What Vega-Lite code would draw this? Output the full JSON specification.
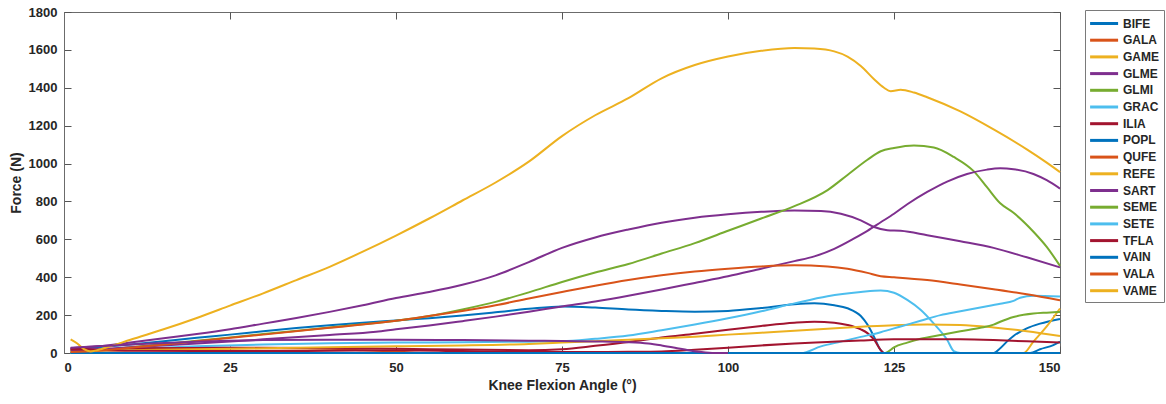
{
"$schema":"https://vega.github.io/schema/vega-lite/v6.json",
"width":996,"height":341,"autosize":"none",
"padding":{"left":64,"top":12,"right":106,"bottom":51},
"background":"white",
"config":{
 "view":{"stroke":"#6b6b6b","strokeWidth":1},
 "axis":{"labelFont":"Liberation Sans","labelFontWeight":"bold","labelFontSize":13,"labelColor":"#262626","titleFont":"Liberation Sans","titleFontWeight":"bold","titleFontSize":14,"titleColor":"#262626","domainColor":"#6b6b6b","tickColor":"#555555","grid":false,"tickSize":-7,"format":"d"}
},
"data":{"values":[
{"m":"BIFE","a":1,"f":20},{"m":"BIFE","a":5,"f":30},{"m":"BIFE","a":10,"f":45},{"m":"BIFE","a":15,"f":62},{"m":"BIFE","a":20,"f":80},{"m":"BIFE","a":25,"f":97},{"m":"BIFE","a":30,"f":115},{"m":"BIFE","a":35,"f":132},{"m":"BIFE","a":40,"f":147},{"m":"BIFE","a":45,"f":160},{"m":"BIFE","a":50,"f":172},{"m":"BIFE","a":55,"f":184},{"m":"BIFE","a":60,"f":198},{"m":"BIFE","a":65,"f":215},{"m":"BIFE","a":70,"f":233},{"m":"BIFE","a":75,"f":246},{"m":"BIFE","a":80,"f":240},{"m":"BIFE","a":85,"f":229},{"m":"BIFE","a":90,"f":222},{"m":"BIFE","a":95,"f":218},{"m":"BIFE","a":100,"f":222},{"m":"BIFE","a":105,"f":237},{"m":"BIFE","a":110,"f":257},{"m":"BIFE","a":113,"f":262},{"m":"BIFE","a":116,"f":252},{"m":"BIFE","a":118,"f":236},{"m":"BIFE","a":120,"f":195},{"m":"BIFE","a":121,"f":150},{"m":"BIFE","a":122,"f":85},{"m":"BIFE","a":123,"f":15},{"m":"BIFE","a":123.5,"f":0},{"m":"BIFE","a":140,"f":0},{"m":"BIFE","a":141,"f":25},{"m":"BIFE","a":142,"f":60},{"m":"BIFE","a":143,"f":90},{"m":"BIFE","a":145,"f":130},{"m":"BIFE","a":147,"f":155},{"m":"BIFE","a":150,"f":180},
{"m":"GALA","a":1,"f":15},{"m":"GALA","a":10,"f":18},{"m":"GALA","a":20,"f":22},{"m":"GALA","a":30,"f":25},{"m":"GALA","a":40,"f":22},{"m":"GALA","a":45,"f":15},{"m":"GALA","a":50,"f":8},{"m":"GALA","a":55,"f":0},{"m":"GALA","a":150,"f":0},
{"m":"GAME","a":1,"f":0},{"m":"GAME","a":144.5,"f":0},{"m":"GAME","a":146,"f":60},{"m":"GAME","a":148,"f":140},{"m":"GAME","a":150,"f":235},
{"m":"GLME","a":1,"f":25},{"m":"GLME","a":5,"f":35},{"m":"GLME","a":10,"f":55},{"m":"GLME","a":15,"f":78},{"m":"GLME","a":20,"f":100},{"m":"GLME","a":25,"f":125},{"m":"GLME","a":30,"f":155},{"m":"GLME","a":35,"f":185},{"m":"GLME","a":40,"f":217},{"m":"GLME","a":45,"f":252},{"m":"GLME","a":50,"f":290},{"m":"GLME","a":55,"f":322},{"m":"GLME","a":60,"f":360},{"m":"GLME","a":65,"f":410},{"m":"GLME","a":70,"f":480},{"m":"GLME","a":75,"f":555},{"m":"GLME","a":80,"f":610},{"m":"GLME","a":85,"f":652},{"m":"GLME","a":90,"f":688},{"m":"GLME","a":95,"f":714},{"m":"GLME","a":100,"f":732},{"m":"GLME","a":105,"f":745},{"m":"GLME","a":110,"f":752},{"m":"GLME","a":114,"f":750},{"m":"GLME","a":117,"f":735},{"m":"GLME","a":120,"f":700},{"m":"GLME","a":122,"f":665},{"m":"GLME","a":124,"f":648},{"m":"GLME","a":126,"f":645},{"m":"GLME","a":130,"f":622},{"m":"GLME","a":135,"f":590},{"m":"GLME","a":140,"f":555},{"m":"GLME","a":145,"f":505},{"m":"GLME","a":150,"f":452},
{"m":"GLMI","a":1,"f":10},{"m":"GLMI","a":5,"f":15},{"m":"GLMI","a":10,"f":30},{"m":"GLMI","a":20,"f":65},{"m":"GLMI","a":30,"f":100},{"m":"GLMI","a":40,"f":135},{"m":"GLMI","a":50,"f":170},{"m":"GLMI","a":55,"f":195},{"m":"GLMI","a":60,"f":230},{"m":"GLMI","a":65,"f":270},{"m":"GLMI","a":70,"f":320},{"m":"GLMI","a":75,"f":375},{"m":"GLMI","a":80,"f":425},{"m":"GLMI","a":85,"f":470},{"m":"GLMI","a":90,"f":525},{"m":"GLMI","a":95,"f":580},{"m":"GLMI","a":100,"f":645},{"m":"GLMI","a":105,"f":710},{"m":"GLMI","a":110,"f":775},{"m":"GLMI","a":115,"f":860},{"m":"GLMI","a":118,"f":940},{"m":"GLMI","a":121,"f":1020},{"m":"GLMI","a":123,"f":1065},{"m":"GLMI","a":125,"f":1082},{"m":"GLMI","a":128,"f":1095},{"m":"GLMI","a":131,"f":1085},{"m":"GLMI","a":134,"f":1035},{"m":"GLMI","a":137,"f":960},{"m":"GLMI","a":139,"f":875},{"m":"GLMI","a":141,"f":790},{"m":"GLMI","a":143,"f":740},{"m":"GLMI","a":146,"f":640},{"m":"GLMI","a":148,"f":560},{"m":"GLMI","a":150,"f":460},
{"m":"GRAC","a":1,"f":5},{"m":"GRAC","a":10,"f":20},{"m":"GRAC","a":20,"f":35},{"m":"GRAC","a":30,"f":45},{"m":"GRAC","a":40,"f":52},{"m":"GRAC","a":50,"f":55},{"m":"GRAC","a":60,"f":57},{"m":"GRAC","a":70,"f":60},{"m":"GRAC","a":75,"f":62},{"m":"GRAC","a":80,"f":75},{"m":"GRAC","a":85,"f":92},{"m":"GRAC","a":90,"f":120},{"m":"GRAC","a":95,"f":150},{"m":"GRAC","a":100,"f":183},{"m":"GRAC","a":105,"f":220},{"m":"GRAC","a":110,"f":262},{"m":"GRAC","a":115,"f":300},{"m":"GRAC","a":120,"f":322},{"m":"GRAC","a":123,"f":330},{"m":"GRAC","a":125,"f":318},{"m":"GRAC","a":127,"f":280},{"m":"GRAC","a":129,"f":228},{"m":"GRAC","a":131,"f":155},{"m":"GRAC","a":133,"f":70},{"m":"GRAC","a":134,"f":10},{"m":"GRAC","a":135,"f":0},{"m":"GRAC","a":150,"f":0},
{"m":"ILIA","a":1,"f":25},{"m":"ILIA","a":5,"f":20},{"m":"ILIA","a":10,"f":25},{"m":"ILIA","a":20,"f":27},{"m":"ILIA","a":30,"f":28},{"m":"ILIA","a":40,"f":25},{"m":"ILIA","a":50,"f":22},{"m":"ILIA","a":60,"f":18},{"m":"ILIA","a":70,"f":15},{"m":"ILIA","a":75,"f":20},{"m":"ILIA","a":80,"f":38},{"m":"ILIA","a":85,"f":58},{"m":"ILIA","a":90,"f":82},{"m":"ILIA","a":95,"f":102},{"m":"ILIA","a":100,"f":123},{"m":"ILIA","a":105,"f":143},{"m":"ILIA","a":110,"f":160},{"m":"ILIA","a":113,"f":165},{"m":"ILIA","a":116,"f":160},{"m":"ILIA","a":118,"f":148},{"m":"ILIA","a":120,"f":125},{"m":"ILIA","a":121,"f":105},{"m":"ILIA","a":122,"f":70},{"m":"ILIA","a":123,"f":15},{"m":"ILIA","a":123.5,"f":0},{"m":"ILIA","a":150,"f":0},
{"m":"POPL","a":1,"f":0},{"m":"POPL","a":145.5,"f":0},{"m":"POPL","a":147,"f":20},{"m":"POPL","a":149,"f":42},{"m":"POPL","a":150,"f":60},
{"m":"QUFE","a":1,"f":0},{"m":"QUFE","a":150,"f":0},
{"m":"REFE","a":1,"f":10},{"m":"REFE","a":10,"f":15},{"m":"REFE","a":20,"f":20},{"m":"REFE","a":30,"f":25},{"m":"REFE","a":40,"f":30},{"m":"REFE","a":50,"f":35},{"m":"REFE","a":60,"f":40},{"m":"REFE","a":70,"f":48},{"m":"REFE","a":75,"f":55},{"m":"REFE","a":80,"f":62},{"m":"REFE","a":85,"f":70},{"m":"REFE","a":90,"f":78},{"m":"REFE","a":95,"f":86},{"m":"REFE","a":100,"f":97},{"m":"REFE","a":105,"f":107},{"m":"REFE","a":110,"f":118},{"m":"REFE","a":115,"f":128},{"m":"REFE","a":120,"f":138},{"m":"REFE","a":125,"f":147},{"m":"REFE","a":130,"f":150},{"m":"REFE","a":135,"f":148},{"m":"REFE","a":140,"f":135},{"m":"REFE","a":145,"f":115},{"m":"REFE","a":150,"f":90},
{"m":"SART","a":1,"f":15},{"m":"SART","a":5,"f":20},{"m":"SART","a":10,"f":30},{"m":"SART","a":20,"f":50},{"m":"SART","a":30,"f":72},{"m":"SART","a":40,"f":95},{"m":"SART","a":47,"f":112},{"m":"SART","a":50,"f":125},{"m":"SART","a":55,"f":145},{"m":"SART","a":60,"f":168},{"m":"SART","a":65,"f":192},{"m":"SART","a":70,"f":218},{"m":"SART","a":75,"f":246},{"m":"SART","a":80,"f":272},{"m":"SART","a":85,"f":302},{"m":"SART","a":90,"f":335},{"m":"SART","a":95,"f":370},{"m":"SART","a":100,"f":405},{"m":"SART","a":105,"f":445},{"m":"SART","a":110,"f":485},{"m":"SART","a":113,"f":510},{"m":"SART","a":116,"f":550},{"m":"SART","a":119,"f":605},{"m":"SART","a":121,"f":645},{"m":"SART","a":123,"f":690},{"m":"SART","a":125,"f":735},{"m":"SART","a":127,"f":785},{"m":"SART","a":130,"f":850},{"m":"SART","a":133,"f":905},{"m":"SART","a":136,"f":945},{"m":"SART","a":139,"f":968},{"m":"SART","a":141,"f":975},{"m":"SART","a":143,"f":970},{"m":"SART","a":146,"f":945},{"m":"SART","a":148,"f":912},{"m":"SART","a":150,"f":868},
{"m":"SEME","a":1,"f":0},{"m":"SEME","a":123.5,"f":0},{"m":"SEME","a":124,"f":5},{"m":"SEME","a":125,"f":30},{"m":"SEME","a":127,"f":55},{"m":"SEME","a":129,"f":75},{"m":"SEME","a":132,"f":95},{"m":"SEME","a":135,"f":115},{"m":"SEME","a":138,"f":133},{"m":"SEME","a":140,"f":150},{"m":"SEME","a":141,"f":165},{"m":"SEME","a":143,"f":190},{"m":"SEME","a":146,"f":208},{"m":"SEME","a":148,"f":213},{"m":"SEME","a":150,"f":217},
{"m":"SETE","a":1,"f":0},{"m":"SETE","a":111,"f":0},{"m":"SETE","a":114,"f":35},{"m":"SETE","a":117,"f":60},{"m":"SETE","a":120,"f":85},{"m":"SETE","a":123,"f":110},{"m":"SETE","a":126,"f":140},{"m":"SETE","a":129,"f":170},{"m":"SETE","a":132,"f":200},{"m":"SETE","a":135,"f":220},{"m":"SETE","a":138,"f":240},{"m":"SETE","a":141,"f":260},{"m":"SETE","a":143,"f":275},{"m":"SETE","a":144,"f":292},{"m":"SETE","a":146,"f":302},{"m":"SETE","a":150,"f":298},
{"m":"TFLA","a":1,"f":20},{"m":"TFLA","a":10,"f":12},{"m":"TFLA","a":20,"f":10},{"m":"TFLA","a":30,"f":10},{"m":"TFLA","a":40,"f":12},{"m":"TFLA","a":50,"f":15},{"m":"TFLA","a":60,"f":10},{"m":"TFLA","a":70,"f":6},{"m":"TFLA","a":80,"f":5},{"m":"TFLA","a":85,"f":6},{"m":"TFLA","a":90,"f":8},{"m":"TFLA","a":95,"f":17},{"m":"TFLA","a":100,"f":28},{"m":"TFLA","a":105,"f":40},{"m":"TFLA","a":110,"f":50},{"m":"TFLA","a":115,"f":58},{"m":"TFLA","a":120,"f":66},{"m":"TFLA","a":125,"f":72},{"m":"TFLA","a":130,"f":73},{"m":"TFLA","a":135,"f":72},{"m":"TFLA","a":140,"f":68},{"m":"TFLA","a":145,"f":62},{"m":"TFLA","a":150,"f":55},
{"m":"VAIN","a":1,"f":0},{"m":"VAIN","a":150,"f":0},
{"m":"VALA","a":1,"f":5},{"m":"VALA","a":5,"f":12},{"m":"VALA","a":10,"f":28},{"m":"VALA","a":20,"f":62},{"m":"VALA","a":30,"f":97},{"m":"VALA","a":40,"f":133},{"m":"VALA","a":50,"f":170},{"m":"VALA","a":55,"f":195},{"m":"VALA","a":60,"f":222},{"m":"VALA","a":65,"f":252},{"m":"VALA","a":70,"f":288},{"m":"VALA","a":75,"f":322},{"m":"VALA","a":80,"f":355},{"m":"VALA","a":85,"f":385},{"m":"VALA","a":90,"f":410},{"m":"VALA","a":95,"f":430},{"m":"VALA","a":100,"f":445},{"m":"VALA","a":105,"f":457},{"m":"VALA","a":110,"f":463},{"m":"VALA","a":115,"f":457},{"m":"VALA","a":118,"f":445},{"m":"VALA","a":121,"f":423},{"m":"VALA","a":123,"f":405},{"m":"VALA","a":125,"f":400},{"m":"VALA","a":130,"f":385},{"m":"VALA","a":135,"f":362},{"m":"VALA","a":140,"f":337},{"m":"VALA","a":145,"f":310},{"m":"VALA","a":150,"f":278},
{"m":"VAME","a":1,"f":72},{"m":"VAME","a":2,"f":50},{"m":"VAME","a":3,"f":20},{"m":"VAME","a":4,"f":8},{"m":"VAME","a":5,"f":15},{"m":"VAME","a":7,"f":35},{"m":"VAME","a":10,"f":70},{"m":"VAME","a":15,"f":125},{"m":"VAME","a":20,"f":185},{"m":"VAME","a":25,"f":250},{"m":"VAME","a":30,"f":315},{"m":"VAME","a":35,"f":385},{"m":"VAME","a":40,"f":455},{"m":"VAME","a":45,"f":535},{"m":"VAME","a":50,"f":620},{"m":"VAME","a":55,"f":710},{"m":"VAME","a":60,"f":805},{"m":"VAME","a":65,"f":900},{"m":"VAME","a":70,"f":1010},{"m":"VAME","a":75,"f":1145},{"m":"VAME","a":80,"f":1255},{"m":"VAME","a":85,"f":1345},{"m":"VAME","a":90,"f":1450},{"m":"VAME","a":95,"f":1520},{"m":"VAME","a":100,"f":1565},{"m":"VAME","a":105,"f":1595},{"m":"VAME","a":110,"f":1610},{"m":"VAME","a":113,"f":1607},{"m":"VAME","a":116,"f":1592},{"m":"VAME","a":118,"f":1565},{"m":"VAME","a":120,"f":1515},{"m":"VAME","a":122,"f":1445},{"m":"VAME","a":123.5,"f":1400},{"m":"VAME","a":124.5,"f":1382},{"m":"VAME","a":126,"f":1390},{"m":"VAME","a":128,"f":1375},{"m":"VAME","a":130,"f":1350},{"m":"VAME","a":135,"f":1275},{"m":"VAME","a":140,"f":1180},{"m":"VAME","a":145,"f":1075},{"m":"VAME","a":148,"f":1005},{"m":"VAME","a":150,"f":955},
{"m":"extra","a":1,"f":28},{"m":"extra","a":5,"f":35},{"m":"extra","a":10,"f":45},{"m":"extra","a":20,"f":60},{"m":"extra","a":30,"f":68},{"m":"extra","a":40,"f":70},{"m":"extra","a":50,"f":70},{"m":"extra","a":60,"f":68},{"m":"extra","a":70,"f":65},{"m":"extra","a":75,"f":63},{"m":"extra","a":80,"f":61},{"m":"extra","a":85,"f":57},{"m":"extra","a":88,"f":50},{"m":"extra","a":90,"f":40},{"m":"extra","a":92,"f":28},{"m":"extra","a":94,"f":15},{"m":"extra","a":96,"f":5},{"m":"extra","a":98,"f":0},{"m":"extra","a":100,"f":0}
]},
"layer":[
 {"transform":[{"filter":"datum.m !== 'extra'"}],
  "mark":{"type":"line","strokeWidth":2,"interpolate":"monotone"},
  "encoding":{
   "x":{"field":"a","type":"quantitative","scale":{"domain":[0,150],"nice":false},"axis":{"values":[0,25,50,75,100,125,150],"title":"Knee Flexion Angle (°)","labelPadding":15,"titlePadding":4,"domain":true}},
   "y":{"field":"f","type":"quantitative","scale":{"domain":[0,1800],"nice":false},"axis":{"values":[0,200,400,600,800,1000,1200,1400,1600,1800],"title":"Force (N)","labelPadding":14,"titlePadding":5}},
   "color":{"field":"m","type":"nominal","sort":null,
    "scale":{"domain":["BIFE","GALA","GAME","GLME","GLMI","GRAC","ILIA","POPL","QUFE","REFE","SART","SEME","SETE","TFLA","VAIN","VALA","VAME"],
             "range":["#0072BD","#D95319","#EDB120","#7E2F8E","#77AC30","#4DBEEE","#A2142F","#0072BD","#D95319","#EDB120","#7E2F8E","#77AC30","#4DBEEE","#A2142F","#0072BD","#D95319","#EDB120"]},
    "legend":{"title":null,"orient":"none","legendX":1021,"legendY":-2,"direction":"vertical","symbolType":"M-1.2,0H2.8","symbolSize":196,"symbolStrokeWidth":3,"labelFont":"Liberation Sans","labelFontWeight":"bold","labelFontSize":12,"labelColor":"#262626","labelOffset":16,"padding":5,"rowPadding":1.7,"strokeColor":"#7a7a7a","fillColor":"white","labelLimit":80}}
  }},
 {"transform":[{"filter":"datum.m === 'extra'"}],
  "mark":{"type":"line","strokeWidth":2,"color":"#7E2F8E","interpolate":"monotone"},
  "encoding":{
   "x":{"field":"a","type":"quantitative","axis":{"orient":"top","values":[0,25,50,75,100,125,150],"labels":false,"title":null,"domain":false}},
   "y":{"field":"f","type":"quantitative","axis":{"orient":"right","values":[0,200,400,600,800,1000,1200,1400,1600,1800],"labels":false,"title":null,"domain":false}}
  }}
],
"resolve":{"axis":{"x":"independent","y":"independent"}}
}
